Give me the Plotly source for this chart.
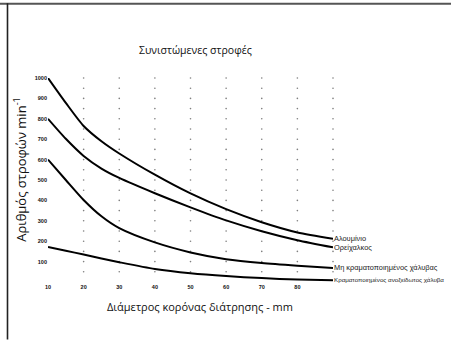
import plotly.graph_objects as go

# Drill-bit diameter (mm) and recommended speeds (min^-1) per material
diameters = [10, 15, 20, 25, 30, 40, 50, 60, 70, 80, 90]
aluminium = [1000, 878, 765, 690, 630, 526, 434, 357, 293, 243, 212]
brass = [800, 702, 618, 556, 510, 435, 366, 302, 249, 205, 170]
mild_steel = [600, 500, 402, 322, 264, 194, 145, 112, 93, 80, 69]
stainless = [172, 153, 135, 115, 97, 64, 43, 29, 19, 12, 8]

series_names = [
    "Αλουμίνιο",
    "Ορείχαλκος",
    "Μη κραματοποιημένος χάλυβας",
    "Κραματοποιημένος ανοξείδωτος χάλυβα",
]
series_values = [aluminium, brass, mild_steel, stainless]
label_sizes = [7.4, 7.4, 7.4, 6.2]

x_ticks = [10, 20, 30, 40, 50, 60, 70, 80]
y_ticks = [100, 200, 300, 400, 500, 600, 700, 800, 900, 1000]
grid_x = [20, 30, 40, 50, 60, 70, 80, 90]
grid_y = list(range(50, 1001, 50))

W, H = 451, 340
ML, MR, MT, MB = 48, 118, 78, 57.6
PW, PH = W - ML - MR, H - MT - MB


def px_x(p):
    return (p - ML) / PW


def px_y(p):
    return (H - MB - p) / PH


fig = go.Figure()

# dotted vertical guides
gx, gy = [], []
for xv in grid_x:
    for yv in grid_y:
        gx.append(xv)
        gy.append(yv)
fig.add_trace(go.Scatter(
    x=gx, y=gy, mode="markers",
    marker=dict(size=1.6, color="#808080"),
    hoverinfo="skip", showlegend=False, cliponaxis=False,
))

for name, vals, fs in zip(series_names, series_values, label_sizes):
    fig.add_trace(go.Scatter(
        x=diameters, y=vals, mode="lines", name=name,
        line=dict(color="#000000", width=2, shape="spline", smoothing=0.7),
        showlegend=False, cliponaxis=False,
    ))
    fig.add_annotation(
        x=diameters[-1], y=vals[-1], xref="x", yref="y",
        text=name, showarrow=False, xanchor="left", yanchor="middle",
        xshift=-1,
        font=dict(family="Liberation Sans, Arial, sans-serif", size=fs, color="#1a1a1a"),
    )

tick_font = dict(family="Liberation Sans, Arial, sans-serif", size=5.5, color="#111", weight="bold")
fig.update_xaxes(
    range=[10, 90], showgrid=False, zeroline=False, showline=False,
    tickmode="array", tickvals=x_ticks, ticktext=[str(v) for v in x_ticks],
    ticks="", tickfont=tick_font,
)
fig.update_yaxes(
    range=[0, 1000], showgrid=False, zeroline=False, showline=False,
    tickmode="array", tickvals=y_ticks, ticktext=[str(v) for v in y_ticks],
    ticks="", tickfont=tick_font,
)

# title and axis titles
fig.add_annotation(
    x=px_x(196), y=px_y(50), xref="paper", yref="paper",
    text="Συνιστώμενες στροφές", showarrow=False,
    xanchor="center", yanchor="middle",
    font=dict(family="Open Sans, Noto Sans, sans-serif", size=10.5, color="#111"),
)
fig.add_annotation(
    x=px_x(200), y=px_y(307), xref="paper", yref="paper",
    text="Διάμετρος κορόνας διάτρησης - mm", showarrow=False,
    xanchor="center", yanchor="middle",
    font=dict(family="Open Sans, Noto Sans, sans-serif", size=11, color="#111"),
)
fig.add_annotation(
    x=px_x(20), y=px_y(170), xref="paper", yref="paper",
    text="Αριθμός στροφών min<sup>-1</sup>", showarrow=False, textangle=-90,
    xanchor="center", yanchor="middle",
    font=dict(family="Open Sans, Noto Sans, sans-serif", size=13, color="#111"),
)

# page frame
fig.add_shape(type="line", xref="paper", yref="paper",
              x0=px_x(0), x1=px_x(W), y0=px_y(3.5), y1=px_y(3.5),
              line=dict(color="#555555", width=2))
fig.add_shape(type="line", xref="paper", yref="paper",
              x0=px_x(7.5), x1=px_x(7.5), y0=px_y(3), y1=px_y(H),
              line=dict(color="#222222", width=1.6))

fig.update_layout(
    width=W, height=H,
    margin=dict(l=ML, r=MR, t=MT, b=MB, autoexpand=False),
    paper_bgcolor="white", plot_bgcolor="white",
    showlegend=False,
)

fig.write_html("out.html")
